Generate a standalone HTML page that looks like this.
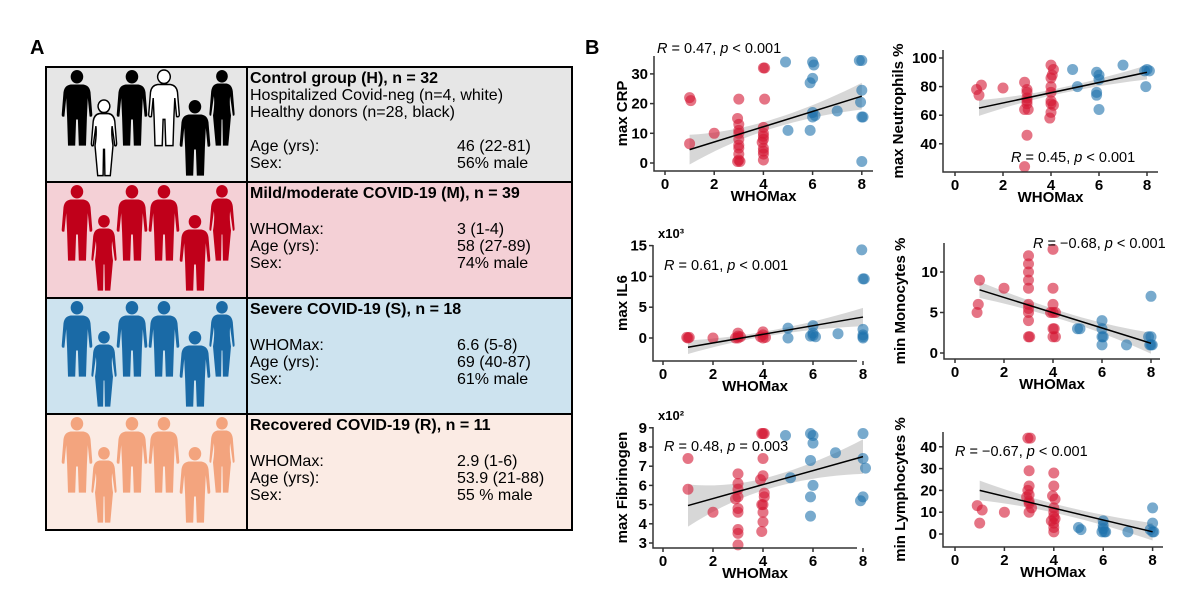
<!DOCTYPE html>
<html><head><meta charset="utf-8"><style>
html,body{margin:0;padding:0;background:#fff;}
svg{display:block;font-family:"Liberation Sans",Arial,sans-serif;}
</style></head><body>
<svg id="s" width="1191" height="601" viewBox="0 0 1191 601" xmlns="http://www.w3.org/2000/svg">
<defs>
<path id="male" d="M20,1 a7,7 0 1,1 -0.1,0 Z M13,16 L27,16 Q34,17 35,24 L37,47 Q37,50 34,49 L32,30 L31,50 L30,79 L22,79 L21,52 L19,52 L18,79 L10,79 L9,50 L8,30 L6,49 Q3,50 3,47 L5,24 Q6,17 13,16 Z"/>
<path id="female" d="M20,1 a6.5,6.5 0 1,1 -0.1,0 Z M15,15 L25,15 Q31,16 32,23 L34,46 Q34,49 32,48 L29,28 Q28,36 30,48 L27,79 L21,79 L20.5,52 L19.5,52 L19,79 L13,79 L10,48 Q12,36 11,28 L8,48 Q6,49 6,46 L8,23 Q9,16 15,15 Z"/>
</defs>
</svg>
<script>
const s=document.getElementById('s');let h='';
h+='<text x="30" y="54" font-size="20" font-weight="bold">A</text>';
h+='<text x="585" y="54" font-size="20" font-weight="bold">B</text>';
const rows=[[67,'#e6e6e6'],[182,'#f4d0d6'],[298,'#cde3ef'],[414,'#fbebe4']];
rows.forEach(r=>{h+=`<rect x="46" y="${r[0]}" width="526" height="116" fill="${r[1]}"/>`;});
h+='<rect x="46" y="67" width="526" height="463" fill="none" stroke="#000" stroke-width="2"/>';
[182,298,414].forEach(y=>h+=`<line x1="46" x2="572" y1="${y}" y2="${y}" stroke="#000" stroke-width="2"/>`);
h+='<line x1="247" x2="247" y1="67" y2="530" stroke="#000" stroke-width="2"/>';
const figs=[[77,'male',0],[104,'female',1],[132,'male',0],[164,'male',0],[195,'male',1],[222,'female',0]];
const fc=['#000','#c0001a','#1a6aa6','#f3a47e'];
rows.forEach((r,i)=>{figs.forEach((f,j)=>{let fill=fc[i],st='';
 if(i==0&&(j==1||j==3)){fill='#fff';st=' stroke="#000" stroke-width="1.6"';}
 const y=r[0]+(f[2]?32:2);const sc=f[1]=='male'?0.9:0.9;
 h+=`<use href="#${f[1]}" transform="translate(${f[0]-20*sc},${y}) scale(${sc},0.97)" fill="${fill}"${st}/>`;});});
const T=(x,y,t,b)=>`<text x="${x}" y="${y}" font-size="16"${b?' font-weight="bold"':''}>${t}</text>`;
h+=T(250,83,'Control group (H), n = 32',1)+T(250,100,'Hospitalized Covid-neg (n=4, white)')+T(250,117,'Healthy donors (n=28, black)')+T(250,151,'Age (yrs):')+T(250,168,'Sex:')+T(457,151,'46 (22-81)')+T(457,168,'56% male');
const blk=(y0,title,a,b,c)=>T(250,y0+16,title,1)+T(250,y0+52,'WHOMax:')+T(250,y0+69,'Age (yrs):')+T(250,y0+86,'Sex:')+T(457,y0+52,a)+T(457,y0+69,b)+T(457,y0+86,c);
h+=blk(182,'Mild/moderate COVID-19 (M), n = 39','3 (1-4)','58 (27-89)','74% male');
h+=blk(298,'Severe COVID-19 (S), n = 18','6.6 (5-8)','69 (40-87)','61% male');
h+=blk(414,'Recovered COVID-19 (R), n = 11','2.9 (1-6)','53.9 (21-88)','55 % male');
const RED='rgba(212,24,52,0.6)',BLUE='rgba(30,114,172,0.6)';
function panel(p){
 const X=v=>p.x0+p.xs*v, Y=v=>p.y0-p.ys*(v-p.yb);
 let o='';
 let up=[],lo=[];for(let k=0;k<=20;k++){const v=1+7*k/20;const m=p.l[0]+(p.l[1]-p.l[0])*(v-1)/7;
  let w;if(v<p.bc){const t=(p.bc-v)/(p.bc-1);w=p.wm+(p.w0-p.wm)*t*t;}else{const t=(v-p.bc)/(8-p.bc);w=p.wm+(p.w1-p.wm)*t*t;}
  up.push(X(v)+','+Y(m+w));lo.unshift(X(v)+','+Y(m-w));}
 o+=`<polygon points="${up.join(' ')} ${lo.join(' ')}" fill="#bdbdbd" fill-opacity="0.6"/>`;
 p.r.forEach(d=>o+=`<circle cx="${X(d[0])}" cy="${Y(d[1])}" r="5.5" fill="${RED}"/>`);
 p.b.forEach(d=>o+=`<circle cx="${X(d[0])}" cy="${Y(d[1])}" r="5.5" fill="${BLUE}"/>`);
 o+=`<line x1="${X(1)}" y1="${Y(p.l[0])}" x2="${X(8)}" y2="${Y(p.l[1])}" stroke="#000" stroke-width="1.5"/>`;
 o+=`<path d="M${p.ax},${p.top} V${p.xy} H${p.xr}" fill="none" stroke="#333" stroke-width="1.5"/>`;
 [0,2,4,6,8].forEach(v=>{o+=`<line x1="${X(v)}" x2="${X(v)}" y1="${p.xy}" y2="${p.xy+4}" stroke="#333" stroke-width="1.5"/><text x="${X(v)}" y="${p.xy+18}" font-size="15" font-weight="bold" text-anchor="middle">${v}</text>`;});
 p.yt.forEach(v=>{o+=`<line x1="${p.ax-4}" x2="${p.ax}" y1="${Y(v)}" y2="${Y(v)}" stroke="#333" stroke-width="1.5"/><text x="${p.ax-6}" y="${Y(v)+5}" font-size="15" font-weight="bold" text-anchor="end">${v}</text>`;});
 o+=`<text x="${(p.ax+p.xr)/2}" y="${p.xy+30}" font-size="15" font-weight="bold" text-anchor="middle">WHOMax</text>`;
 o+=`<text transform="translate(${p.lx},${(p.top+p.xy)/2}) rotate(-90)" font-size="15" font-weight="bold" text-anchor="middle">${p.lab}</text>`;
 o+=`<text x="${p.rt[0]}" y="${p.rt[1]}" font-size="14.5">${p.rt[2]}</text>`;
 if(p.ex)o+=`<text x="${p.ax+5}" y="${p.top-7}" font-size="13" font-weight="bold">${p.ex}</text>`;
 return o;}
const R='<tspan font-style="italic">R</tspan>',P='<tspan font-style="italic">p</tspan>';
h+=panel({x0:665,xs:24.6,y0:163,ys:2.97,yb:0,ax:654,top:56,xy:171,xr:873,lx:627,lab:'max CRP',yt:[0,10,20,30],
 rt:[657,53,R+' = 0.47, '+P+' &lt; 0.001'],l:[4.5,22.5],bc:4.3,w0:5,wm:1.5,w1:4.5,
 r:[[1,22],[1.05,21],[1,6.5],[2,10],[3,21.5],[2.95,15],[3,13],[3,11],[3,10],[3,8],[3,6],[3,5],[3,3],[3,1],[2.95,0.5],[3.05,0.5],[4,32],[4.05,32],[4.05,21.5],[4,12],[4,10],[4,9],[4,8],[4,5],[4,4],[4,3],[4,1],[3.95,7]],
 b:[[4.9,34],[5,11],[5.9,11],[5.9,27],[6,28.5],[6,34],[6.05,33],[6,17],[6,15.5],[6.1,16],[7,17.5],[7.9,34.5],[8,34.5],[8,24.5],[7.95,20.5],[8.05,15.5],[8,15.5],[8,0.5]]});
h+=panel({x0:955,xs:24,y0:58,ys:1.43,yb:100,ax:943,top:50,xy:172,xr:1158,lx:903,lab:'max Neutrophils %',yt:[40,60,80,100],
 rt:[1011,162,R+' = 0.45, '+P+' &lt; 0.001'],l:[65,90],bc:4.3,w0:5.5,wm:2,w1:5,
 r:[[0.9,78],[1,74],[1.1,81],[2,79],[2.9,83],[3,78],[3,76],[3,72],[3,70],[3,68],[2.9,64],[3.05,64],[3,46],[2.9,24],[4,95],[4.1,92],[4,86],[4,80],[4,76],[4,70],[4,68],[4.1,67],[4,62],[3.95,58],[4.05,88]],
 b:[[4.9,92],[5.1,80],[5.9,90],[6,88],[6,85],[5.9,76],[5.9,74],[6,64],[7,95],[7.9,91],[8,92],[8.1,91],[7.95,80]]});
h+=panel({x0:663,xs:25,y0:338,ys:6.16,yb:0,ax:653,top:245,xy:361,xr:857,lx:627,lab:'max IL6',yt:[0,5,10,15],ex:'x10³',
 rt:[664,270,R+' = 0.61, '+P+' &lt; 0.001'],l:[-1.5,3.4],bc:4,w0:1.1,wm:0.4,w1:1.5,
 r:[[0.95,0.1],[1,0],[1.05,0.1],[2,0],[3,0.8],[3,0.3],[3,0],[2.9,0],[3.1,0.2],[4,1],[4,0.5],[4,0],[3.9,0.2],[4.1,0.1]],
 b:[[5,1.6],[5,0],[6,2],[6,0.8],[6,0.4],[5.9,0.3],[6.1,0.2],[7,0.7],[7.95,14.3],[8,9.6],[8.05,9.6],[8,1.4],[8,0.5],[8,0.2],[8,0]]});
h+=panel({x0:955,xs:24.5,y0:353,ys:8.1,yb:0,ax:944,top:243,xy:359,xr:1160,lx:905,lab:'min Monocytes %',yt:[0,5,10],
 rt:[1033,248,R+' = \u22120.68, '+P+' &lt; 0.001'],l:[7.8,1.2],bc:4.5,w0:1,wm:0.5,w1:1.3,
 r:[[1,9],[0.95,6],[0.9,5],[2,8],[3,12],[3,11],[3,10],[3,9],[3,8],[3,6],[3,5.5],[3,5],[3,4],[3,2],[3.05,2],[4,12.8],[4,8],[4,6],[4,5],[3.9,5],[4.1,5],[4,3],[4.05,3],[4,2],[4.1,2]],
 b:[[5,3],[5.1,3],[6,4],[6,3],[6,2],[6.05,2],[6,1],[7,1],[8,7],[7.9,2],[8,2],[8,1],[8.05,1],[7.95,1]]});
h+=panel({x0:663,xs:25,y0:543,ys:19.2,yb:3,ax:653,top:427,xy:548,xr:857,lx:627,lab:'max Fibrinogen',yt:[3,4,5,6,7,8,9],ex:'x10²',
 rt:[664,451,R+' = 0.48, '+P+' = 0.003'],l:[4.95,7.5],bc:4.3,w0:1.1,wm:0.3,w1:0.9,
 r:[[1,7.4],[1,5.8],[2,4.6],[3,6.6],[3,6.1],[3,5.8],[3,5.4],[2.9,5.3],[3,4.8],[3,4.6],[3,3.7],[3,3.5],[3,2.9],[4,8.7],[3.95,8.7],[4.05,8.7],[4,7.4],[4,6.5],[3.9,6.3],[4.05,5.6],[4.05,5.4],[4,5],[3.95,5],[4,4.6],[4,4.1],[3.95,3.6]],
 b:[[4.9,8.6],[5.1,6.4],[5.9,8.7],[6,8.6],[6,8.2],[5.9,7.3],[6,6],[5.9,5.4],[5.9,4.4],[6.9,7.7],[8,8.7],[8,7.4],[8.1,6.9],[8,5.4],[7.9,5.2]]});
h+=panel({x0:955,xs:24.7,y0:534,ys:2.18,yb:0,ax:943,top:432,xy:547,xr:1163,lx:905,lab:'min Lymphocytes %',yt:[0,10,20,30,40],
 rt:[955,456,R+' = \u22120.67, '+P+' &lt; 0.001'],l:[20,1],bc:4.5,w0:4.5,wm:2,w1:4,
 r:[[0.9,13],[1.1,11],[1,5],[2,10],[2.95,44],[3.05,44],[3,29],[3,22],[2.95,20],[3,18],[3,15],[3,14],[2.9,17],[3.1,12],[3,10],[4,28],[4,22],[3.95,17.5],[4.05,16],[4,12],[4,10],[4,8],[4.05,7],[4,5],[4,3],[4,1],[3.9,6]],
 b:[[5,3],[5.1,2],[6,6],[6,4],[6,2.5],[5.95,1],[6.05,1],[6.1,1],[7,1],[8,12],[8,5],[7.9,2],[8,1],[8.05,1]]});
s.insertAdjacentHTML('beforeend',h);
</script>
</body></html>
